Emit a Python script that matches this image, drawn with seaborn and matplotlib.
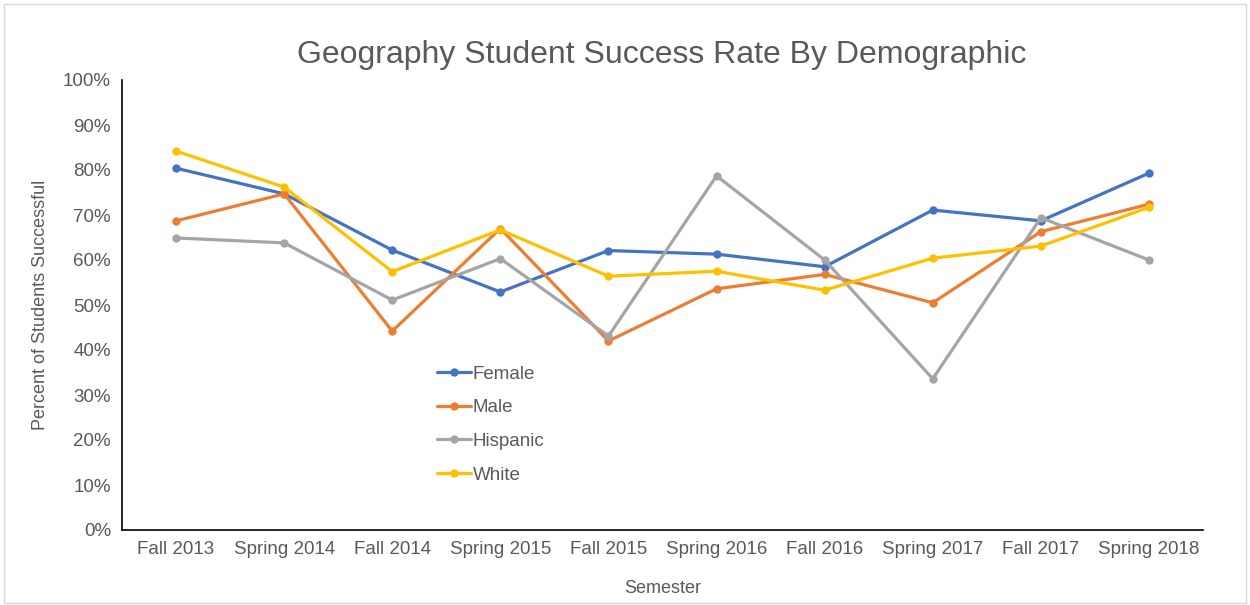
import pandas as pd
import numpy as np
import matplotlib.pyplot as plt
import seaborn as sns
from matplotlib.patches import Rectangle
from matplotlib.ticker import PercentFormatter

# Semesters and success rates (percent)
semesters = ['Fall 2013', 'Spring 2014', 'Fall 2014', 'Spring 2015', 'Fall 2015',
             'Spring 2016', 'Fall 2016', 'Spring 2017', 'Fall 2017', 'Spring 2018']
female = [80.4, 74.7, 62.2, 52.9, 62.1, 61.3, 58.5, 71.1, 68.7, 79.3]
male = [68.7, 74.7, 44.2, 67.0, 42.0, 53.6, 56.8, 50.5, 66.3, 72.4]
hispanic = [64.9, 63.8, 51.1, 60.3, 43.1, 78.7, 60.0, 33.6, 69.4, 60.0]
white = [84.2, 76.2, 57.4, 66.7, 56.4, 57.5, 53.3, 60.4, 63.1, 71.7]

groups = ['Female', 'Male', 'Hispanic', 'White']
palette = ['#4472C4', '#ED7D31', '#A5A5A5', '#FFC000']

# long-form table for seaborn
df = pd.DataFrame({
    'pos': list(range(len(semesters))) * 4,
    'Semester': semesters * 4,
    'Rate': female + male + hispanic + white,
    'Group': np.repeat(groups, len(semesters)),
})

sns.set_style('white')
plt.rcParams['font.family'] = ['Liberation Sans', 'DejaVu Sans']
text_color = '#595959'

fig = plt.figure(figsize=(12.5, 6.05), dpi=100)
ax = fig.add_axes([122 / 1250, 75 / 605, (1203 - 122) / 1250, 450 / 605])

sns.lineplot(data=df, x='pos', y='Rate', hue='Group', hue_order=groups,
             palette=palette, marker='o', markersize=6, markeredgewidth=0,
             linewidth=2.3, sort=False, ax=ax)

ax.set_xlim(-0.5, len(semesters) - 0.5)
ax.set_ylim(0, 100)
ax.set_yticks(range(0, 101, 10))
ax.yaxis.set_major_formatter(PercentFormatter(decimals=0))
ax.set_xticks(range(len(semesters)))
ax.set_xticklabels(semesters)
ax.tick_params(axis='both', length=0, labelsize=13.5, labelcolor=text_color, pad=8)

for side in ['top', 'right']:
    ax.spines[side].set_visible(False)
for side in ['left', 'bottom']:
    ax.spines[side].set_color('black')
    ax.spines[side].set_linewidth(1.2)

ax.set_xlabel('Semester', fontsize=13, color=text_color, labelpad=16)
ax.set_ylabel('Percent of Students Successful', fontsize=13, color=text_color, labelpad=10)
fig.text(662 / 1250, 1 - 55 / 605, 'Geography Student Success Rate By Demographic',
         fontsize=23, color=text_color, ha='center', va='center')

leg = ax.legend(loc='upper left', bbox_to_anchor=(0.276, 0.403), frameon=False,
                fontsize=13.5, handlelength=1.8, handletextpad=0.1, labelspacing=0.88)
for t in leg.get_texts():
    t.set_color(text_color)

# light chart-area border
fig.patches.append(Rectangle((4 / 1250, 2 / 605), 1242 / 1250, 599 / 605,
                             transform=fig.transFigure, fill=False,
                             edgecolor='#D9D9D9', linewidth=1))

plt.savefig('out.png', dpi=100)
plt.close()
